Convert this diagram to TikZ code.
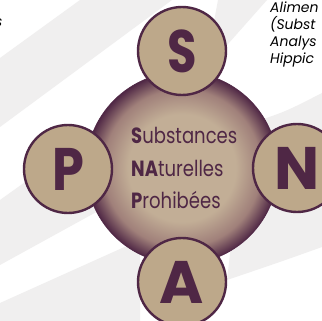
\documentclass[tikz,border=0pt]{standalone}
\usepackage{fontspec}
\setmainfont{Poppins}
\usetikzlibrary{positioning}

\definecolor{snapplum}{RGB}{79,39,69}
\definecolor{snaptan}{RGB}{189,168,138}
\definecolor{snapband}{RGB}{240,239,239}
\definecolor{snaplight}{RGB}{194,174,150}
\definecolor{snapmid}{RGB}{160,128,122}

\pgfdeclareradialshading{snapglow}{\pgfpoint{0bp}{0bp}}{%
  color(0bp)=(snaplight); color(14bp)=(snaplight);
  color(20.5bp)=(snapmid); color(25bp)=(snapplum); color(50bp)=(snapplum)}

\tikzset{
  letter/.style={circle, draw=snapplum, line width=2.4pt, fill=snaptan,
    minimum size=88pt, inner sep=0pt, text=snapplum,
    font=\fontsize{60}{60}\selectfont\bfseries},
  hub/.style={circle, draw=snapplum, line width=0.6pt, shade, shading=snapglow,
    minimum size=192pt, inner sep=0pt},
  word/.style={anchor=base west, inner sep=0pt, text=snapplum,
    font=\fontsize{22}{22}\selectfont},
  note/.style={anchor=base west, inner sep=0pt,
    font=\fontsize{14}{14}\selectfont\itshape}
}
\newcommand{\narrow}[1]{\scalebox{0.82}[1]{#1}}

\begin{document}
\begin{tikzpicture}[x=1pt, y=-1pt]
    \useasboundingbox (0, 0) rectangle (322, 321);
    \fill[white] (0, 0) rectangle (322, 321);

    % background bands
    \fill[snapband] (80, 0) -- (172, 0) -- (0, 127) -- (0, 58) -- cycle;
    \fill[snapband] (218, 0) -- (267, 0) -- (205, 70) -- cycle;
    \fill[snapband] (0, 200) -- (0, 265) -- (140, 188) -- (140, 100) -- cycle;
    \fill[snapband] (0, 303) -- (140, 240) -- (140, 321) -- (0, 321) -- cycle;
    \fill[snapband] (245, 125) .. controls (285, 112) .. (322, 93)
        -- (322, 247) .. controls (280, 262) .. (227, 280) -- cycle;

    \node[note] (top)  at (-5, 27) {s};
    \node[note] (ali)  at (270, 13) {Alimen};
    \node[note] (sub)  at (270, 30) {(Subst};
    \node[note] (ana)  at (270, 47) {Analys};
    \node[note] (hip)  at (270, 64) {Hippic};

    \node[hub] (snap) at (182, 168) {};

    \node[letter] (s) at (182, 51)  {\scalebox{0.8}[1]{S}};
    \node[letter] (p) at (68, 169)  {\scalebox{0.85}[1]{P}};
    \node[letter] (n) at (297, 168) {N};
    \node[letter] (a) at (182, 282) {A};

    \node[word] (l1) at (131, 144) {\narrow{\textbf{S}ubstances}};
    \node[word] (l2) at (131, 177) {\narrow{\textbf{NA}turelles}};
    \node[word] (l3) at (131, 209) {\narrow{\textbf{P}rohibées}};
\end{tikzpicture}
\end{document}
